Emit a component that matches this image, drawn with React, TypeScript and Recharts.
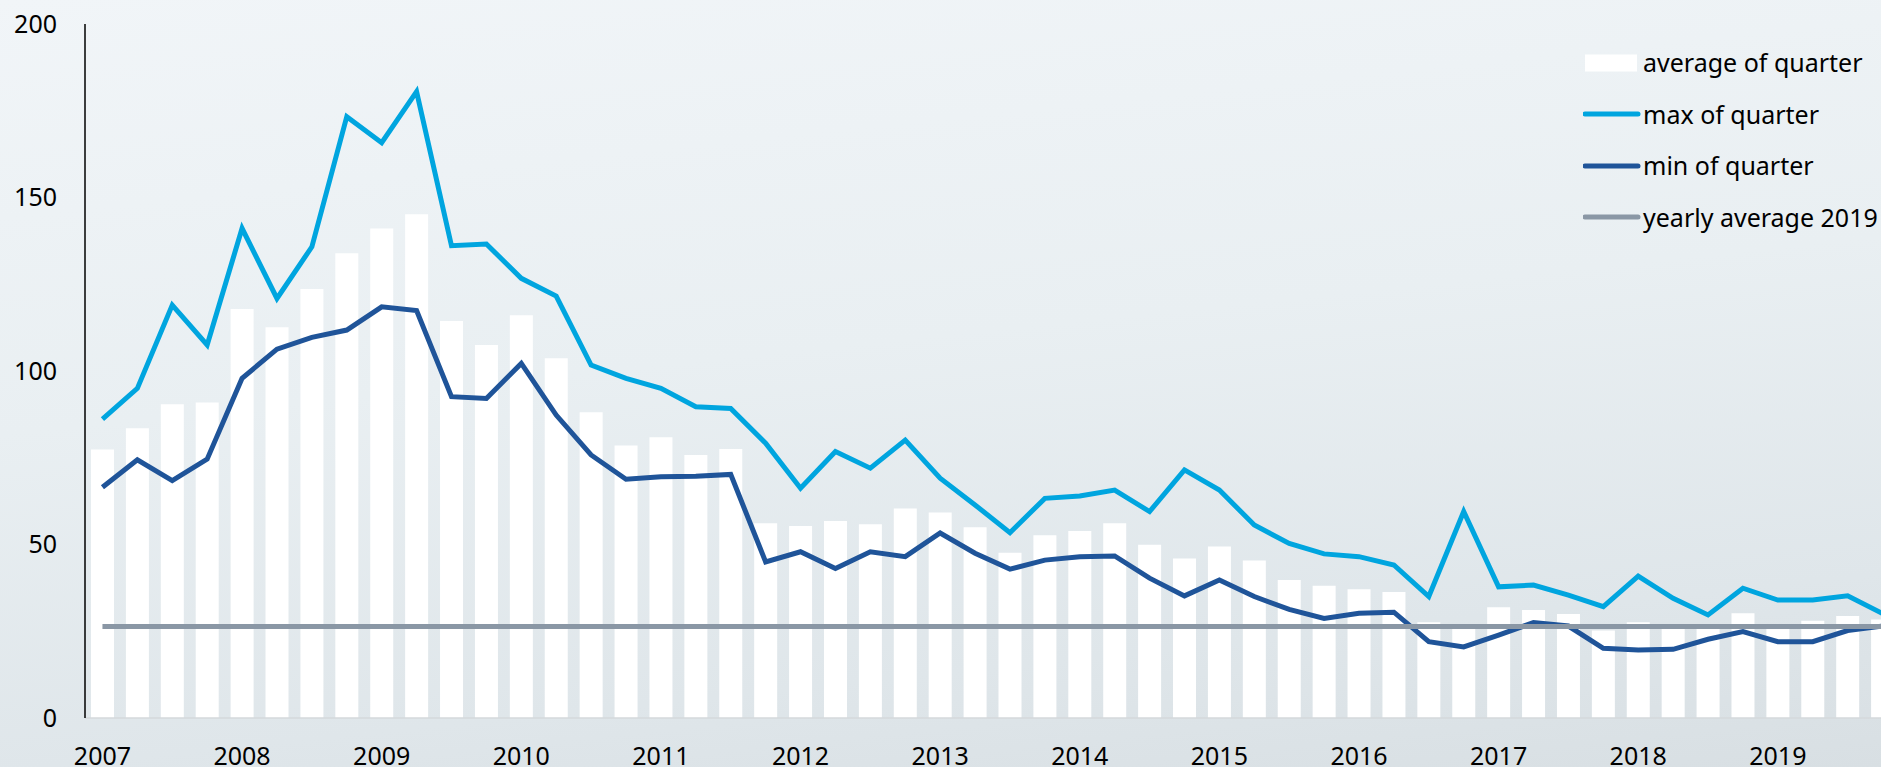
import React from 'react';
import { ComposedChart, Bar, Line, XAxis, YAxis, Legend } from 'recharts';

const years = [2007, 2008, 2009, 2010, 2011, 2012, 2013, 2014, 2015, 2016, 2017, 2018, 2019];
const quarterNames = ['Q1', 'Q2', 'Q3', 'Q4'];
const categories = years.flatMap((y) => quarterNames.map((q) => `${y} ${q}`));
const yearTicks = years.map((y) => `${y} Q1`);
const yTicks = [0, 50, 100, 150, 200];

const avgOfQuarter = [
  77.4, 83.5, 90.4, 90.9, 117.9, 112.6, 123.6, 133.9, 141.1, 145.2,
  114.4, 107.5, 116.1, 103.7, 88.1, 78.5, 80.9, 75.8, 77.5, 56.1,
  55.3, 56.8, 55.8, 60.4, 59.2, 55.0, 47.6, 52.7, 53.9, 56.1,
  49.9, 46.0, 49.4, 45.4, 39.8, 38.1, 37.1, 36.3, 27.6, 25.8,
  31.9, 31.1, 30.0, 25.2, 27.6, 25.8, 25.8, 30.2, 25.8, 28.0,
  29.4, 28.4,
];

const maxOfQuarter = [
  86.1, 95.0, 119.0, 107.5, 141.1, 120.9, 135.8, 173.3, 165.8, 180.5,
  136.1, 136.6, 126.7, 121.6, 101.7, 97.9, 95.0, 89.7, 89.2, 79.2,
  66.2, 76.8, 72.0, 80.1, 69.1, 61.4, 53.4, 63.3, 64.0, 65.7,
  59.5, 71.5, 65.7, 55.6, 50.3, 47.3, 46.5, 44.1, 35.0, 59.5,
  37.8, 38.3, 35.4, 32.1, 40.9, 34.5, 29.7, 37.4, 34.0, 34.0,
  35.2, 30.1,
];

const minOfQuarter = [
  66.5, 74.4, 68.4, 74.6, 97.9, 106.3, 109.7, 111.8, 118.5, 117.4,
  92.6, 92.1, 102.2, 87.3, 75.8, 68.8, 69.5, 69.7, 70.2, 45.0,
  47.9, 43.1, 47.9, 46.5, 53.3, 47.5, 42.9, 45.5, 46.5, 46.7,
  40.3, 35.2, 39.8, 35.0, 31.3, 28.7, 30.2, 30.5, 22.0, 20.5,
  23.9, 27.5, 26.5, 20.1, 19.6, 19.8, 22.7, 24.9, 22.0, 22.0,
  25.2, 26.5,
];

const yearlyAverage2019 = 26.4;

const data = categories.map((quarter, i) => ({
  quarter,
  avg: avgOfQuarter[i],
  max: maxOfQuarter[i],
  min: minOfQuarter[i],
  yearly: yearlyAverage2019,
}));

const COLORS = {
  avg: '#ffffff',
  max: '#00a5df',
  min: '#1f5499',
  yearly: '#8a97a5',
};

const legendItems = [
  { label: 'average of quarter', color: COLORS.avg, kind: 'rect' },
  { label: 'max of quarter', color: COLORS.max, kind: 'line' },
  { label: 'min of quarter', color: COLORS.min, kind: 'line' },
  { label: 'yearly average 2019', color: COLORS.yearly, kind: 'line' },
];

const FONT = '"Noto Sans", "Open Sans", sans-serif';

function CustomLegend() {
  return (
    <div style={{ fontFamily: FONT, fontSize: 25, color: '#000' }}>
      {legendItems.map((it) => (
        <div
          key={it.label}
          style={{ display: 'flex', alignItems: 'center', height: 51.5, whiteSpace: 'nowrap' }}
        >
          <svg width={58} height={20} style={{ flex: 'none' }}>
            {it.kind === 'rect' ? (
              <rect x={2} y={1.5} width={52} height={17} fill={it.color} />
            ) : (
              <line x1={2} y1={10} x2={55} y2={10} stroke={it.color} strokeWidth={5} strokeLinecap="round" />
            )}
          </svg>
          <span style={{ marginLeft: 2, lineHeight: '25px' }}>{it.label}</span>
        </div>
      ))}
    </div>
  );
}

const tickStyle = { fill: '#000', fontSize: 25, fontFamily: FONT };

export default function App() {
  return (
    <div
      style={{
        position: 'fixed',
        left: 0,
        top: 0,
        width: 1881,
        height: 767,
        overflow: 'hidden',
        background: 'linear-gradient(174deg, #f1f5f8 0%, #e9eff2 45%, #dfe6ea 80%, #d8dfe3 100%)',
        fontFamily: FONT,
      }}
    >
      <ComposedChart
        width={1900}
        height={767}
        data={data}
        margin={{ top: 24, right: 0, left: 0, bottom: 0 }}
      >
        <XAxis
          dataKey="quarter"
          ticks={yearTicks}
          interval={0}
          tickFormatter={(v: string) => String(v).slice(0, 4)}
          tickLine={false}
          tickSize={0}
          tickMargin={29}
          height={49}
          axisLine={{ stroke: '#d4d8db', strokeWidth: 1.5 }}
          tick={tickStyle}
        />
        <YAxis
          domain={[0, 200]}
          ticks={yTicks}
          width={85}
          tickLine={false}
          tickSize={0}
          tickMargin={28}
          axisLine={{ stroke: '#000', strokeWidth: 1.5 }}
          tick={tickStyle}
        />
        <Bar dataKey="avg" name="average of quarter" fill={COLORS.avg} barSize={23} isAnimationActive={false} />
        <Line
          type="linear"
          dataKey="max"
          name="max of quarter"
          stroke={COLORS.max}
          strokeWidth={5}
          dot={false}
          activeDot={false}
          isAnimationActive={false}
        />
        <Line
          type="linear"
          dataKey="min"
          name="min of quarter"
          stroke={COLORS.min}
          strokeWidth={5}
          dot={false}
          activeDot={false}
          isAnimationActive={false}
        />
        <Line
          type="linear"
          dataKey="yearly"
          name="yearly average 2019"
          stroke={COLORS.yearly}
          strokeWidth={5}
          dot={false}
          activeDot={false}
          isAnimationActive={false}
        />
        <Legend
          layout="vertical"
          align="center"
          verticalAlign="middle"
          content={() => <CustomLegend />}
          wrapperStyle={{ left: 1583, top: 37, width: 300, height: 210 }}
        />
      </ComposedChart>
    </div>
  );
}
